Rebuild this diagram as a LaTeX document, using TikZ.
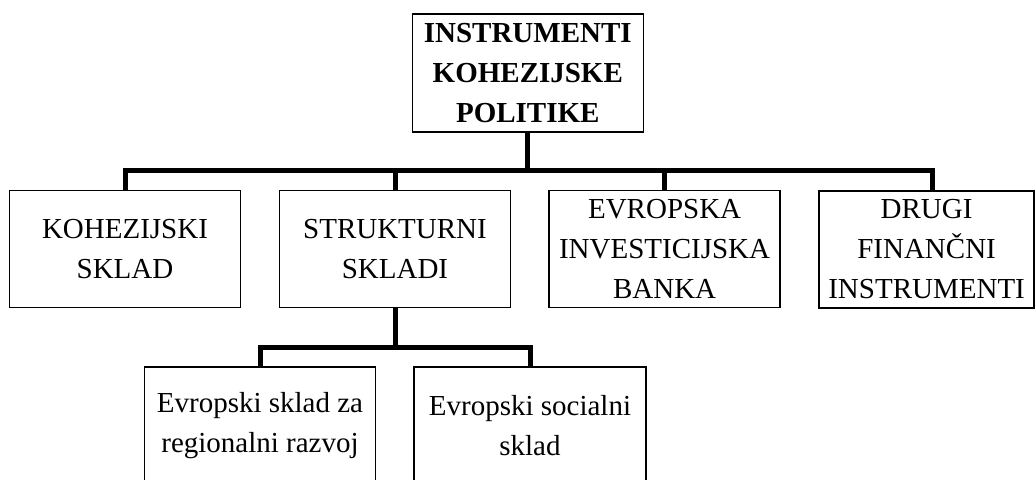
\documentclass[tikz,border=0pt]{standalone}
\usepackage{fontspec}
\setmainfont{Liberation Serif}
\begin{document}
\begin{tikzpicture}[x=1pt,y=-1pt,
  box/.style={draw, line width=1.3pt, inner sep=0pt, align=center,
    font=\fontsize{29}{40}\selectfont, minimum height=117pt},
  conn/.style={line width=5pt}]
\useasboundingbox (0,0) rectangle (1035,479);
\clip (0,0) rectangle (1035,479);
\node[box, minimum width=231pt, minimum height=118pt,
  font=\fontsize{29}{40}\selectfont\bfseries] (top) at (527.8,73)
  {INSTRUMENTI\\KOHEZIJSKE\\POLITIKE};
\node[box, minimum width=231.4pt] (koh) at (125,249.2) {KOHEZIJSKI\\SKLAD};
\node[box, minimum width=231.4pt] (str) at (395,249.2) {STRUKTURNI\\SKLADI};
\node[box, minimum width=231pt] (evr) at (664.6,249.2) {EVROPSKA\\INVESTICIJSKA\\BANKA};
\node[box, minimum width=215pt] (dru) at (926.6,249.5) {DRUGI\\FINANČNI\\INSTRUMENTI};
\node[box, minimum width=231.4pt] (esrr) at (260,425.5) {Evropski sklad za\\regionalni razvoj};
\node[box, minimum width=232pt] (esf) at (530,425.5) {Evropski socialni\\sklad};
\coordinate (bus) at (527.8,170);
\coordinate (drutop) at (932,190.7);
\coordinate (sbus) at (395,347);
\draw[conn] (top.south) -- (bus);
\draw[conn] (koh.north) |- (bus);
\draw[conn] (str.north) -- (str.north |- bus);
\draw[conn] (evr.north) -- (evr.north |- bus);
\draw[conn] (drutop) |- (bus);
\draw[conn] (str.south) -- (sbus);
\draw[conn] (esrr.north) |- (sbus);
\draw[conn] (esf.north) |- (sbus);
\end{tikzpicture}
\end{document}
